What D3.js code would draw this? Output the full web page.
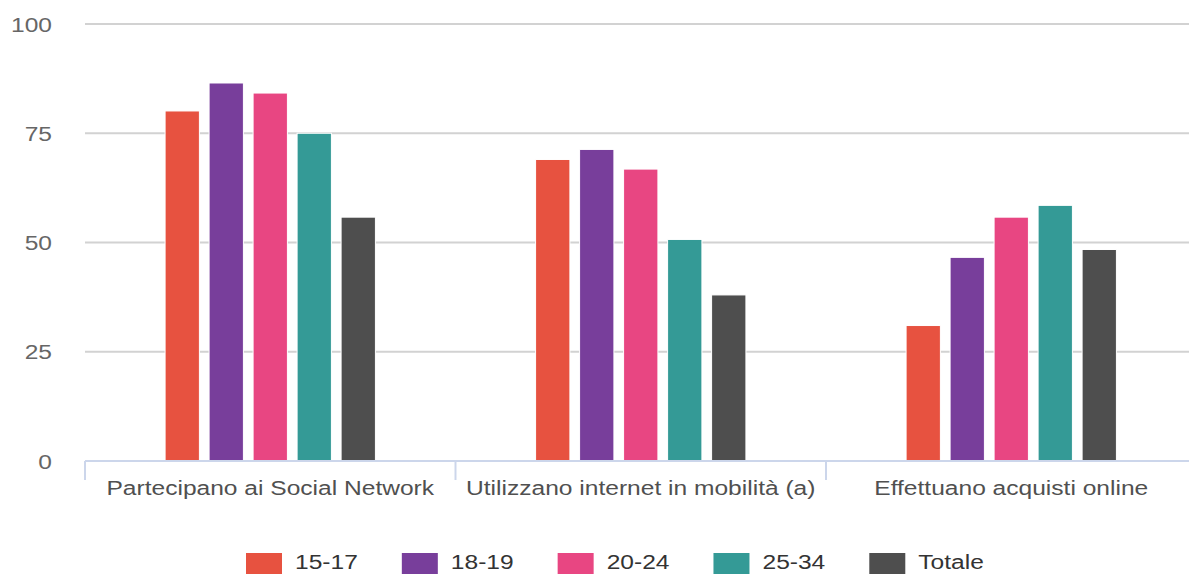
<!DOCTYPE html>
<html>
<head>
<meta charset="utf-8">
<script src="https://cdn.jsdelivr.net/npm/d3@7"></script>
<style>
  body { margin: 0; background: #fff; }
  text { font-family: "Liberation Sans", Arial, sans-serif; }
</style>
</head>
<body>
<svg id="chart" width="1189" height="574"></svg>
<script>
// data
var categories = ["Partecipano ai Social Network", "Utilizzano internet in mobilità (a)", "Effettuano acquisti online"];
var series = ["15-17", "18-19", "20-24", "25-34", "Totale"];
var colors = ["#e75240", "#783e9b", "#e84682", "#349a96", "#4e4e4e"];
var v1517   = [80.1, 69.0, 31.0];
var v1819   = [86.5, 71.3, 46.6];
var v2024   = [84.2, 66.8, 55.8];
var v2534   = [75.0, 50.7, 58.5];
var vTotale = [55.8, 38.0, 48.4];
var yTicks = [0, 25, 50, 75, 100];

var values = [v1517, v1819, v2024, v2534, vTotale];
var stretch = 1.17; // picture is a bit wider than tall, text too

var svg = d3.select("#chart");

var x0 = d3.scaleBand().domain(categories).range([85, 1196.5]);
var x1 = d3.scaleBand().domain(series).range([0, x0.bandwidth()])
           .paddingInner(0.22).paddingOuter(1.82);
var y = d3.scaleLinear().domain([0, 100]).range([461, 24]);
var color = d3.scaleOrdinal().domain(series).range(colors);

// gridlines
svg.append("g").selectAll("line")
   .data(yTicks.filter(function(d) { return d > 0; }))
   .enter().append("line")
   .attr("x1", 85).attr("x2", 1189)
   .attr("y1", function(d) { return y(d); })
   .attr("y2", function(d) { return y(d); })
   .attr("stroke", "#d2d2d2")
   .attr("stroke-width", 2);

// y labels
svg.append("g").selectAll("text")
   .data(yTicks)
   .enter().append("text")
   .attr("transform", function(d) { return "translate(52," + (y(d) + 7.5) + ") scale(" + stretch + ",1)"; })
   .attr("text-anchor", "end")
   .attr("font-size", 21)
   .attr("fill", "#666")
   .text(function(d) { return d; });

// bars
var rows = [];
categories.forEach(function(c, i) {
   series.forEach(function(s, j) {
      rows.push({cat: c, key: s, value: values[j][i]});
   });
});

svg.append("g").selectAll("rect")
   .data(rows)
   .enter().append("rect")
   .attr("x", function(d) { return x0(d.cat) + x1(d.key); })
   .attr("y", function(d) { return y(d.value); })
   .attr("width", x1.bandwidth())
   .attr("height", function(d) { return y(0) - y(d.value); })
   .attr("fill", function(d) { return color(d.key); })
   .attr("stroke", "#fff")
   .attr("stroke-width", 1);

// x axis line and ticks
var axis = svg.append("g");
axis.append("line")
   .attr("x1", 85).attr("x2", 1189)
   .attr("y1", 461).attr("y2", 461)
   .attr("stroke", "#ccd6eb").attr("stroke-width", 2);

var edges = categories.map(function(c) { return x0(c); });
axis.selectAll("line.tick")
   .data(edges)
   .enter().append("line")
   .attr("class", "tick")
   .attr("x1", function(d) { return d; })
   .attr("x2", function(d) { return d; })
   .attr("y1", 461).attr("y2", 480)
   .attr("stroke", "#ccd6eb").attr("stroke-width", 2);

axis.selectAll("text")
   .data(categories)
   .enter().append("text")
   .attr("transform", function(d) { return "translate(" + (x0(d) + x0.bandwidth() / 2) + ",495) scale(" + stretch + ",1)"; })
   .attr("text-anchor", "middle")
   .attr("font-size", 21)
   .attr("fill", "#505050")
   .text(function(d) { return d; });

// legend
var legend = svg.append("g");
var lx = 246;
series.forEach(function(s, i) {
   var item = legend.append("g").attr("transform", "translate(" + lx + ",553)");
   item.append("rect")
       .attr("width", 36).attr("height", 30)
       .attr("fill", colors[i]);
   var t = item.append("text")
       .attr("transform", "translate(49,16) scale(" + stretch + ",1)")
       .attr("font-size", 21)
       .attr("fill", "#333")
       .text(s);
   lx += 49 + t.node().getComputedTextLength() * stretch + 44;
});
</script>
</body>
</html>
